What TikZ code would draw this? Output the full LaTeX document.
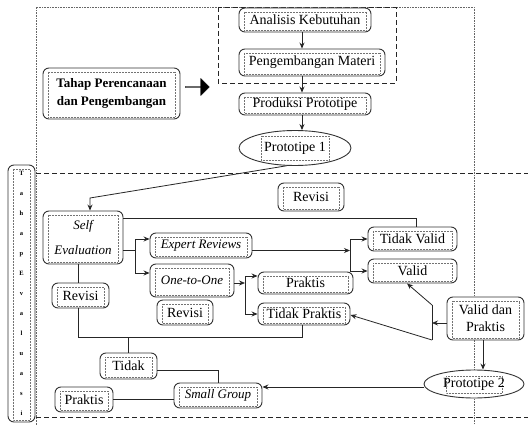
\documentclass[tikz,border=0pt]{standalone}
\usepackage{fontspec}
\setmainfont{Liberation Serif}
\usetikzlibrary{arrows.meta,shapes.geometric,shapes.arrows}
\begin{document}
\begin{tikzpicture}[x=1pt,y=-1pt,
  innerframe/.style={draw=black!55, densely dotted, line width=0.5pt, sharp corners},
  box/.style={draw=black!80, line width=0.9pt, rounded corners=6pt, fill=white, inner sep=0pt,
    font=\fontsize{14}{16}\selectfont, align=center,
    path picture={\draw[innerframe] ([shift={(5pt,-4pt)}]path picture bounding box.north west) rectangle ([shift={(-5pt,2pt)}]path picture bounding box.south east);}},
  ellbox/.style={ellipse, draw=black!80, line width=0.9pt, fill=white, inner sep=0pt,
    font=\fontsize{14}{16}\selectfont,
    path picture={\draw[innerframe] ([shift={(22pt,-6pt)}]path picture bounding box.north west) rectangle ([shift={(-22pt,5pt)}]path picture bounding box.south east);}},
  itfont/.style={font=\fontsize{13}{15}\selectfont\itshape},
  ln/.style={draw=black!85, line width=0.8pt},
  arr/.style={ln, -{Stealth[length=6pt,width=5pt]}},
  dashline/.style={draw=black!85, line width=0.8pt, dash pattern=on 5pt off 3pt},
  dotline/.style={draw=black!60, line width=0.6pt, densely dotted}
]
\useasboundingbox (0,0) rectangle (528,425);
\fill[white] (0,0) rectangle (528,425);

% frames
\draw[dotline] (36,425) -- (36,7) -- (474,7) -- (474,425);
\draw[dashline] (36,173) -- (528,173);
\draw[dashline] (36,417) -- (528,417);
\draw[dashline] (218,7) rectangle (396,83);

% planning stage
\node[box, minimum width=132pt, minimum height=24pt] (ak) at (305,20) {Analisis Kebutuhan};
\node[box, minimum width=146pt, minimum height=27pt] (pm) at (312,62.5) {Pengembangan Materi};
\node[box, minimum width=132pt, minimum height=22pt] (pp) at (305,104) {Produksi Prototipe};
\node[ellbox, minimum width=112pt, minimum height=35pt] (p1) at (295,148) {Prototipe 1};
\node[box, minimum width=137pt, minimum height=51pt, font=\fontsize{13}{18}\selectfont\bfseries] (tp) at (111.5,93.5) {Tahap Perencanaan\\dan Pengembangan};
\node[single arrow, draw=black, fill=black, minimum height=24pt, minimum width=17pt,
  single arrow head extend=3.5pt, single arrow head indent=0pt, inner sep=0pt] (ba) at (197,87) {};

% evaluation stage
\node[box, minimum width=27pt, minimum height=257pt, font=\fontsize{6.5}{20}\selectfont\bfseries] (te) at (21.5,293.5) {T\\a\\h\\a\\p\\E\\v\\a\\l\\u\\a\\s\\i};
\node[box, minimum width=66pt, minimum height=28pt] (rv1) at (311,197) {Revisi};
\node[box, minimum width=80pt, minimum height=53pt, font=\fontsize{13}{25}\selectfont\itshape] (se) at (83,237.5) {Self\\Evaluation};
\node[box, itfont, minimum width=102pt, minimum height=25pt] (er) at (201,245.5) {Expert Reviews};
\node[box, itfont, minimum width=84pt, minimum height=33pt] (oo) at (192,280.5) {One-to-One};
\node[box, minimum width=56pt, minimum height=25pt] (rv2) at (185,312.5) {Revisi};
\node[box, minimum width=95pt, minimum height=22pt] (pr1) at (305.5,283) {Praktis};
\node[box, minimum width=92pt, minimum height=22pt] (tpk) at (304,314) {Tidak Praktis};
\node[box, minimum width=89pt, minimum height=24pt] (tv) at (412.5,239) {Tidak Valid};
\node[box, minimum width=89pt, minimum height=24pt] (va) at (412.5,271) {Valid};
\node[box, minimum width=77pt, minimum height=43pt, font=\fontsize{14}{17}\selectfont] (vp) at (485.5,318.5) {Valid dan\\Praktis};
\node[ellbox, minimum width=100pt, minimum height=28pt] (p2) at (474,384) {Prototipe 2};
\node[box, minimum width=57pt, minimum height=25pt] (rv3) at (80.5,295.5) {Revisi};
\node[box, minimum width=57pt, minimum height=26pt] (td) at (128.5,366) {Tidak};
\node[box, itfont, minimum width=88pt, minimum height=25pt] (sg) at (218,395.5) {Small Group};
\node[box, minimum width=58pt, minimum height=25pt] (pr2) at (84,399.5) {Praktis};

% helper points
\coordinate (c1) at (90,198);
\coordinate (j1) at (135,250);
\coordinate (j2) at (350,250.5);
\coordinate (j3) at (245,283);
\coordinate (c2) at (78,337);
\coordinate (c4) at (432,305);
\coordinate (c5) at (432,340);

% connectors, planning
\draw[arr] ([xshift=-3pt]ak.south) -- ([xshift=-3pt]ak.south |- pm.north);
\draw[arr] ([xshift=-10pt]pm.south) -- ([xshift=-10pt]pm.south |- pp.north);
\draw[arr] ([xshift=-3pt]pp.south) -- ([xshift=-3pt]pp.south |- p1.north);
\draw[arr] (p1.-115) -- (c1) -- (c1 |- se.north);

% connectors, evaluation
\draw[ln] ([yshift=19.5pt]se.east) -| ([xshift=3.5pt]tv.north);
\draw[ln] (j1 -| se.east) -- (j1);
\draw[arr] (j1) |- ([yshift=6.5pt]er.west);
\draw[arr] (j1) |- ([yshift=7.5pt]oo.west);
\draw[arr] (er.east |- j2) -- (j2);
\draw[arr] (j2) |- (tv.west);
\draw[arr] (j2) |- (va.west);
\draw[arr] (oo.east |- j3) -- (j3);
\draw[arr] (j3) |- ([yshift=7pt]pr1.west);
\draw[arr] (j3) |- (tpk.west);
\draw[ln] ([xshift=-2pt]tpk.south) |- (c2) -- (c2 |- rv3.south);
\draw[ln] (td.north |- c2) -- (td.north);
\draw[ln] (c2 |- se.south) -- (c2 |- rv3.north);
\draw[ln] ([yshift=-4pt]td.east) -| (sg.north);
\draw[ln] (pr2.east) -- (pr2.east -| sg.west);
\draw[arr] ([yshift=-3pt]p2.west) -- ([yshift=-3pt]p2.west -| sg.east);
\draw[arr] ([xshift=-2.5pt]vp.south) -- ([xshift=-2.5pt]vp.south |- p2.north);
\draw[arr] ([yshift=-4.5pt]vp.west) -- ([yshift=-4.5pt]vp.west -| c4);
\draw[arr] (c4) -- ([xshift=-5.5pt]va.south);
\draw[ln] (c4) -- (c5);
\draw[arr] (c5) -- ([yshift=-1pt]tpk.east);
\end{tikzpicture}
\end{document}
